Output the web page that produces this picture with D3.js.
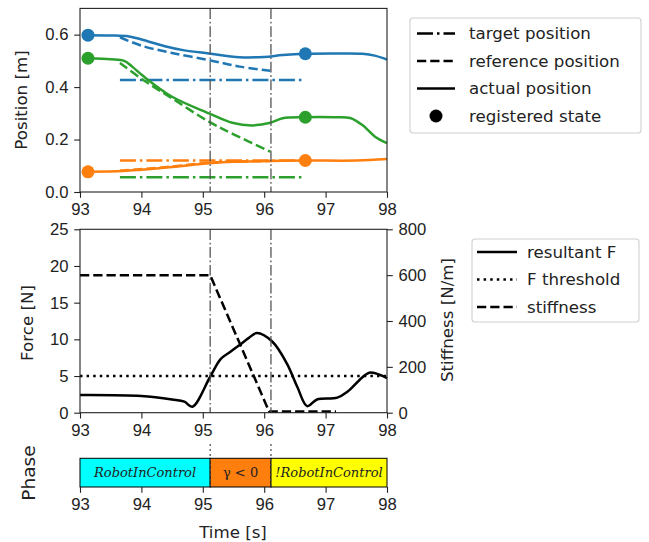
<!DOCTYPE html>
<html>
<head>
<meta charset="utf-8">
<script src="https://cdn.jsdelivr.net/npm/d3@7"></script>
<style>
    body { margin: 0; background: #fff; }
    svg { display: block; font-family: "DejaVu Sans", sans-serif; }
    .tick text { font-size: 16.67px; fill: #222; }
    .tick line, .domain { stroke: #222; }
</style>
</head>
<body>
<svg id="chart" width="649" height="542"></svg>
<script>
'use strict';

// time axis
var xTicks = [93, 94, 95, 96, 97, 98];
var phaseSwitchTimes = [95.12, 96.11];

// blue component
var blueActualT = [93.13, 93.5, 93.8, 94.1, 94.4, 94.7, 95.1, 95.6, 96.0, 96.3, 96.67, 97.2, 97.6, 97.8, 98.0];
var blueActualV = [0.598, 0.597, 0.593, 0.575, 0.555, 0.540, 0.528, 0.514, 0.515, 0.522, 0.527, 0.528, 0.527, 0.520, 0.505];
var blueRefT = [93.65, 94.0, 94.5, 95.1, 95.6, 96.1];
var blueRefV = [0.590, 0.558, 0.530, 0.503, 0.478, 0.462];
var blueTarget = 0.427;

// green component
var greenActualT = [93.13, 93.5, 93.72, 93.85, 94.03, 94.5, 95.1, 95.48, 95.81, 96.1, 96.3, 96.67, 97.13, 97.4, 97.6, 97.8, 98.0];
var greenActualV = [0.510, 0.506, 0.500, 0.478, 0.442, 0.363, 0.300, 0.264, 0.254, 0.264, 0.281, 0.285, 0.285, 0.282, 0.255, 0.212, 0.186];
var greenRefT = [93.65, 94.03, 94.5, 95.1, 95.5, 96.1];
var greenRefV = [0.492, 0.427, 0.357, 0.268, 0.220, 0.154];
var greenTarget = 0.056;

// orange component
var orangeActualT = [93.13, 93.7, 94.0, 94.5, 95.0, 95.1, 95.5, 96.1, 96.67, 97.5, 98.0];
var orangeActualV = [0.077, 0.080, 0.085, 0.095, 0.108, 0.110, 0.115, 0.118, 0.120, 0.120, 0.126];
var orangeRefT = [93.65, 94.5, 95.1, 95.5, 96.1];
var orangeRefV = [0.081, 0.097, 0.112, 0.116, 0.118];
var orangeTarget = 0.120;

var targetSpan = [93.65, 96.67];
var registeredT = [93.13, 96.67];

// force panel
var forceT = [93.0, 94.0, 94.5, 94.7, 94.83, 95.12, 95.29, 95.45, 95.61, 95.75, 95.88, 96.13, 96.37, 96.54, 96.7, 96.86, 97.19, 97.36, 97.71, 97.9, 98.0];
var forceV = [2.4, 2.27, 1.8, 1.5, 0.82, 4.9, 7.3, 8.3, 9.3, 10.2, 10.85, 9.7, 6.7, 3.5, 0.9, 1.8, 2.05, 2.9, 5.45, 5.1, 4.7];
var forceThreshold = 5;
var stiffnessT = [93.0, 95.12, 96.08, 97.17];
var stiffnessV = [600, 600, 5, 5];

// phase bar
var phaseStart = [93, 95.12, 96.11];
var phaseEnd = [95.12, 96.11, 98];
var phaseLabels = ["RobotInControl", "\u03b3 < 0", "!RobotInControl"];
var phaseColors = ["#00ffff", "#ff7f0e", "#ffff00"];

var C_BLUE = "#1f77b4", C_ORANGE = "#ff7f0e", C_GREEN = "#2ca02c";
var DASH = "9.25,4", DASHDOT = "16,4,2.5,4", DOT = "2.5,4.1";
var SMOOTH = d3.curveCatmullRom.alpha(0.5);

var svg = d3.select("#chart");
var x = d3.scaleLinear().domain([93, 98]).range([80, 387]);
var yPos = d3.scaleLinear().domain([0, 0.7]).range([192, 8.4]);
var yForce = d3.scaleLinear().domain([0, 25]).range([412.7, 229.3]);
var yStiff = d3.scaleLinear().domain([0, 800]).range([412.7, 229.3]);

function zip(ts, vs) {
    return ts.map(function (t, i) { return [t, vs[i]]; });
}

function drawLine(g, pts, yScale, color, dash, curve) {
    var line = d3.line()
        .x(function (d) { return x(d[0]); })
        .y(function (d) { return yScale(d[1]); })
        .curve(curve || SMOOTH);
    g.append("path")
        .attr("d", line(pts))
        .attr("fill", "none")
        .attr("stroke", color)
        .attr("stroke-width", 2.5)
        .attr("stroke-dasharray", dash || null);
}

function styleAxis(sel) {
    sel.selectAll(".domain").remove();
    sel.selectAll(".tick line").attr("stroke-width", 1.1);
}

function drawFrame(top, bottom) {
    svg.append("rect")
        .attr("x", x.range()[0]).attr("y", top)
        .attr("width", x.range()[1] - x.range()[0]).attr("height", bottom - top)
        .attr("fill", "none").attr("stroke", "#222").attr("stroke-width", 1.1);
}

function drawSwitchLines(top, bottom, dash) {
    phaseSwitchTimes.forEach(function (t) {
        svg.append("line")
            .attr("x1", x(t)).attr("x2", x(t))
            .attr("y1", top).attr("y2", bottom)
            .attr("stroke", "#555").attr("stroke-width", 1.3)
            .attr("stroke-dasharray", dash);
    });
}

function yLabel(text, cx, cy, size) {
    svg.append("text")
        .attr("transform", "translate(" + cx + "," + cy + ") rotate(-90)")
        .attr("text-anchor", "middle")
        .attr("dominant-baseline", "central")
        .attr("font-size", size || 16.67)
        .attr("fill", "#222")
        .text(text);
}

function drawLegend(x0, y0, w, h, entries, sampleX, textX, rowH, firstY) {
    var g = svg.append("g");
    g.append("rect")
        .attr("x", x0).attr("y", y0).attr("width", w).attr("height", h)
        .attr("rx", 3).attr("fill", "#fff").attr("fill-opacity", 0.8)
        .attr("stroke", "#d0d0d0").attr("stroke-width", 1.1);
    entries.forEach(function (e, i) {
        var cy = firstY + i * rowH;
        if (e.marker) {
            g.append("circle").attr("cx", (sampleX[0] + sampleX[1]) / 2).attr("cy", cy)
                .attr("r", 6.5).attr("fill", "#000");
        } else {
            g.append("line")
                .attr("x1", sampleX[0]).attr("x2", sampleX[1])
                .attr("y1", cy).attr("y2", cy)
                .attr("stroke", "#000").attr("stroke-width", 2.5)
                .attr("stroke-dasharray", e.dash || null);
        }
        g.append("text").attr("x", textX).attr("y", cy)
            .attr("dominant-baseline", "central")
            .attr("font-size", 16.67).attr("fill", "#222")
            .text(e.label);
    });
}

// ---------- top panel: positions ----------
var gTop = svg.append("g");
drawSwitchLines(8.4, 192, "10.7,2.7,1.7,2.7");

[[blueTarget, C_BLUE], [greenTarget, C_GREEN], [orangeTarget, C_ORANGE]].forEach(function (p) {
    drawLine(gTop, [[targetSpan[0], p[0]], [targetSpan[1], p[0]]], yPos, p[1], DASHDOT, d3.curveLinear);
});
drawLine(gTop, zip(blueRefT, blueRefV), yPos, C_BLUE, DASH);
drawLine(gTop, zip(greenRefT, greenRefV), yPos, C_GREEN, DASH);
drawLine(gTop, zip(orangeRefT, orangeRefV), yPos, C_ORANGE, DASH);
drawLine(gTop, zip(blueActualT, blueActualV), yPos, C_BLUE);
drawLine(gTop, zip(greenActualT, greenActualV), yPos, C_GREEN);
drawLine(gTop, zip(orangeActualT, orangeActualV), yPos, C_ORANGE);

[[blueActualT, blueActualV, C_BLUE], [greenActualT, greenActualV, C_GREEN], [orangeActualT, orangeActualV, C_ORANGE]].forEach(function (s) {
    registeredT.forEach(function (t) {
        var v = s[1][s[0].indexOf(t)];
        gTop.append("circle").attr("cx", x(t)).attr("cy", yPos(v)).attr("r", 6.5).attr("fill", s[2]);
    });
});

drawFrame(8.4, 192);
svg.append("g").attr("transform", "translate(0,192)")
    .call(d3.axisBottom(x).tickValues(xTicks).tickFormat(d3.format("d")).tickSize(5.8).tickPadding(5.8))
    .call(styleAxis);
svg.append("g").attr("transform", "translate(80,0)")
    .call(d3.axisLeft(yPos).tickValues([0, 0.2, 0.4, 0.6]).tickFormat(d3.format(".1f")).tickSize(5.8).tickPadding(5.8))
    .call(styleAxis);
yLabel("Position [m]", 21, 100);

drawLegend(410, 18, 231, 115, [
    { label: "target position", dash: "16,4,2.5,4" },
    { label: "reference position", dash: DASH },
    { label: "actual position" },
    { label: "registered state", marker: true }
], [417, 455], 469, 27.5, 33.5);

// ---------- middle panel: force and stiffness ----------
var gMid = svg.append("g");
drawSwitchLines(229.3, 412.7, "10.7,2.7,1.7,2.7");
drawLine(gMid, [[93, forceThreshold], [98, forceThreshold]], yForce, "#000", DOT, d3.curveLinear);
drawLine(gMid, zip(stiffnessT, stiffnessV), yStiff, "#000", DASH, d3.curveLinear);
drawLine(gMid, zip(forceT, forceV), yForce, "#000", null, SMOOTH);

drawFrame(229.3, 412.7);
svg.append("g").attr("transform", "translate(0,412.7)")
    .call(d3.axisBottom(x).tickValues(xTicks).tickFormat(d3.format("d")).tickSize(5.8).tickPadding(5.8))
    .call(styleAxis);
svg.append("g").attr("transform", "translate(80,0)")
    .call(d3.axisLeft(yForce).tickValues([0, 5, 10, 15, 20, 25]).tickSize(5.8).tickPadding(5.8))
    .call(styleAxis);
svg.append("g").attr("transform", "translate(387,0)")
    .call(d3.axisRight(yStiff).tickValues([0, 200, 400, 600, 800]).tickSize(5.8).tickPadding(5.8))
    .call(styleAxis);
yLabel("Force [N]", 27, 323);
yLabel("Stiffness [N/m]", 447, 320);

drawLegend(472, 239, 167, 83, [
    { label: "resultant F" },
    { label: "F threshold", dash: DOT },
    { label: "stiffness", dash: DASH }
], [477, 517], 527, 27.5, 252);

// ---------- bottom panel: phase ----------
var barTop = 458.3, barBottom = 487;
var gPhase = svg.append("g");
phaseStart.forEach(function (s, i) {
    gPhase.append("rect")
        .attr("x", x(s)).attr("y", barTop)
        .attr("width", x(phaseEnd[i]) - x(s)).attr("height", barBottom - barTop)
        .attr("fill", phaseColors[i]).attr("stroke", "#000").attr("stroke-width", 1);
    gPhase.append("text")
        .attr("x", (x(s) + x(phaseEnd[i])) / 2).attr("y", (barTop + barBottom) / 2)
        .attr("text-anchor", "middle").attr("dominant-baseline", "central")
        .attr("font-family", "'DejaVu Serif', serif")
        .attr("font-style", i === 1 ? "normal" : "italic")
        .attr("font-size", 13).attr("fill", "#222")
        .text(phaseLabels[i]);
});
drawSwitchLines(444, barBottom, "2,3");

svg.append("g").attr("transform", "translate(0," + barBottom + ")")
    .call(d3.axisBottom(x).tickValues(xTicks).tickFormat(d3.format("d")).tickSize(5.8).tickPadding(5.8))
    .call(styleAxis);
yLabel("Phase", 28, 473, 18.5);
svg.append("text")
    .attr("x", 233).attr("y", 532)
    .attr("text-anchor", "middle").attr("dominant-baseline", "central")
    .attr("font-size", 16.67).attr("fill", "#222")
    .text("Time [s]");
</script>
</body>
</html>
